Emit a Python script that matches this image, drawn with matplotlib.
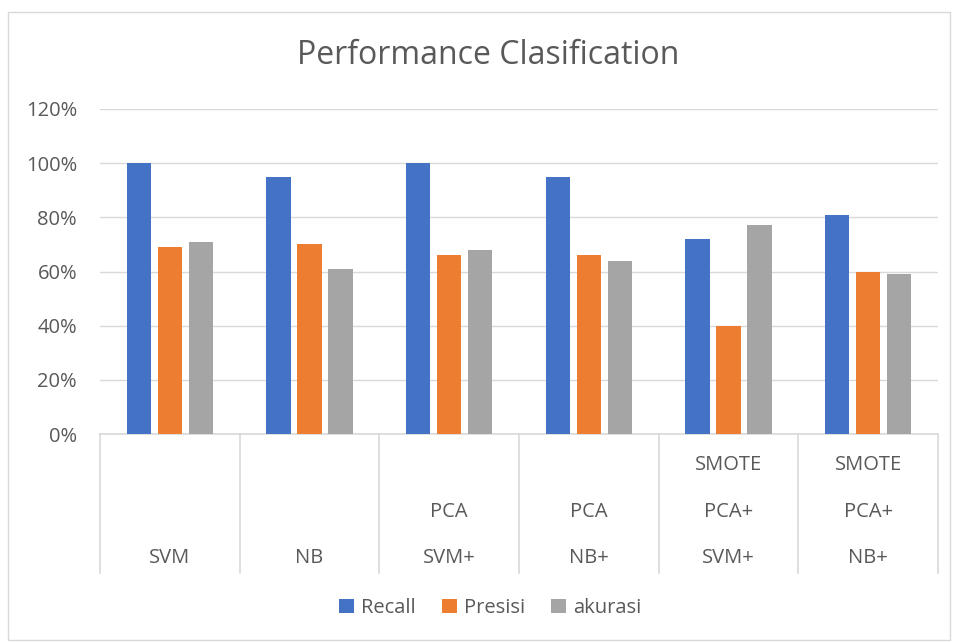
import matplotlib.pyplot as plt
import numpy as np

plt.rcParams['font.family'] = ['Open Sans', 'DejaVu Sans']

# category labels, lines listed top to bottom as shown under each group
categories = [
    ['SVM'],
    ['NB'],
    ['PCA', 'SVM+'],
    ['PCA', 'NB+'],
    ['SMOTE', 'PCA+', 'SVM+'],
    ['SMOTE', 'PCA+', 'NB+'],
]
recall = [100, 95, 100, 95, 72, 81]
presisi = [69, 70, 66, 66, 40, 60]
akurasi = [71, 61, 68, 64, 77, 59]

series = [('Recall', recall, '#4472C4'),
          ('Presisi', presisi, '#ED7D31'),
          ('akurasi', akurasi, '#A5A5A5')]

text_col = '#595959'
grid_col = '#D9D9D9'

W, H = 956, 642
fig = plt.figure(figsize=(W / 100, H / 100), dpi=100)
ax = fig.add_axes([100 / W, 1 - 434 / H, 838 / W, 325 / H])

x = np.arange(len(categories))
bw = 0.172
step = 0.222
for i, (name, vals, col) in enumerate(series):
    ax.bar(x + (i - 1) * step, vals, width=bw, color=col, label=name, zorder=3)

ax.set_xlim(-0.5, len(categories) - 0.5)
ax.set_ylim(0, 120)
ax.set_yticks(range(0, 121, 20))
ax.set_yticklabels([f'{v}%' for v in range(0, 121, 20)], color=text_col, fontsize=14.5)
ax.tick_params(axis='y', length=0, pad=16.5)
ax.set_xticks([])
ax.grid(axis='y', color=grid_col, linewidth=1, zorder=0)
for s in ['top', 'right', 'left']:
    ax.spines[s].set_visible(False)
ax.spines['bottom'].set_color(grid_col)
ax.spines['bottom'].set_linewidth(1.2)

# separators of the category axis
sep_bottom = -(573 - 434) / 325
for b in np.arange(-0.5, len(categories), 1.0):
    ax.plot([b, b], [0, sep_bottom], transform=ax.get_xaxis_transform(),
            color=grid_col, linewidth=1.2, clip_on=False)

# category text, bottom line first
line_y = [558, 512, 465]
for xi, lines in zip(x, categories):
    for j, t in enumerate(reversed(lines)):
        ax.text(xi, -(line_y[j] - 434) / 325, t, ha='center', va='center',
                fontsize=14.5, color=text_col, transform=ax.get_xaxis_transform())

fig.text(488 / W, 1 - 55 / H, 'Performance Clasification', ha='center', va='center',
         fontsize=23, color=text_col)

fig.legend(loc='center', bbox_to_anchor=(490 / W, 1 - 608 / H), ncol=3, frameon=False,
           fontsize=14.5, handlelength=0.75, handleheight=0.75, handletextpad=0.35,
           columnspacing=1.3, labelcolor=text_col)

# chart border
fig.patches.append(plt.Rectangle((8 / W, 2 / H), 942 / W, 628 / H, fill=False,
                                 edgecolor=grid_col, linewidth=1,
                                 transform=fig.transFigure))

fig.savefig('out.png', dpi=100)
